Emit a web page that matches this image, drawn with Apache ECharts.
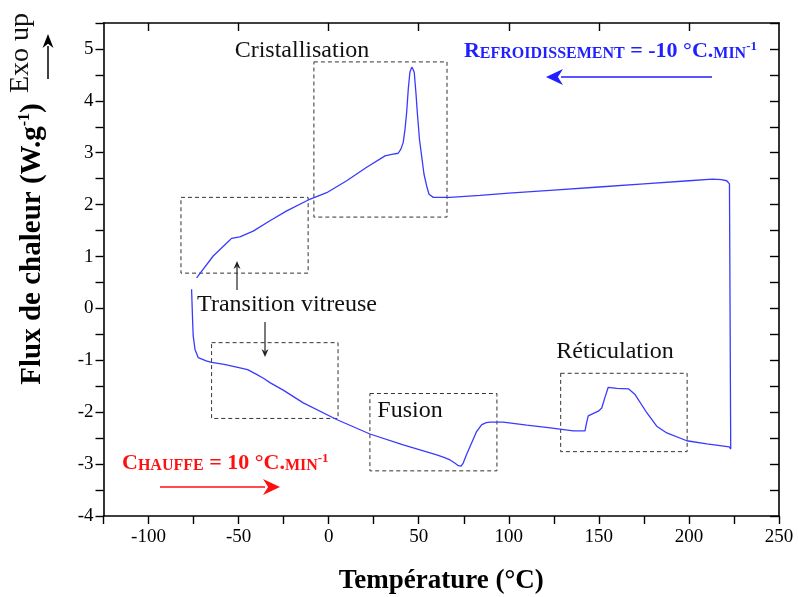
<!DOCTYPE html>
<html><head><meta charset="utf-8">
<script src="https://cdn.jsdelivr.net/npm/echarts@6/dist/echarts.min.js"></script>
<style>html,body{margin:0;padding:0;background:#fff}#c{width:798px;height:597px}</style>
</head><body><div id="c"></div>
<script>
// Heating run (°C, W/g)
const heatT = [-76.1, -75.5, -75.2, -74.2, -72.4, -68, -65, -58, -51.1, -45, -40, -36, -32.6, -25, -14.1, 4.4, 22.9, 41.4, 60, 64, 67.4, 70, 72, 73.5, 74.7, 76.5, 79.4, 82, 85, 87.5, 89.6, 96.9, 110, 123, 135.8, 142.3, 143.2, 144.1, 149.7, 151.6, 153.5, 155.2, 160, 166.4, 170.1, 176.6, 182.1, 187.7, 198.8, 209.9, 222.4, 223.2];
const heatF = [0.37, -0.27, -0.53, -0.79, -0.95, -1.01, -1.04, -1.08, -1.13, -1.18, -1.27, -1.35, -1.43, -1.58, -1.82, -2.14, -2.42, -2.63, -2.82, -2.87, -2.92, -2.98, -3.03, -3.04, -2.98, -2.82, -2.59, -2.38, -2.24, -2.20, -2.19, -2.19, -2.25, -2.30, -2.36, -2.36, -2.2, -2.07, -1.98, -1.92, -1.7, -1.52, -1.54, -1.55, -1.66, -2.01, -2.27, -2.40, -2.55, -2.61, -2.67, -2.71];
// Cooling run (°C, W/g)
const coolT = [222.5, 221, 218, 213, 200, 175, 150, 125, 100, 84, 67.4, 58.1, 55.7, 54.4, 52.9, 51.6, 50.4, 49.2, 48.5, 47.5, 46.8, 46.1, 45.1, 44.2, 43.3, 42.4, 41.4, 40.1, 38.6, 35, 31.3, 21.1, 10, -1.1, -11.3, -23.3, -32.6, -41.9, -49.3, -53.9, -56, -64.1, -73.3];
const coolF = [2.40, 2.46, 2.48, 2.49, 2.46, 2.40, 2.34, 2.28, 2.22, 2.18, 2.14, 2.14, 2.20, 2.36, 2.59, 2.94, 3.26, 3.78, 4.13, 4.55, 4.61, 4.65, 4.55, 4.23, 3.78, 3.46, 3.20, 3.07, 2.99, 2.97, 2.94, 2.72, 2.46, 2.23, 2.09, 1.88, 1.69, 1.49, 1.38, 1.35, 1.28, 1.01, 0.59];
// Tick values
const xTopTicks = [-100, -50, 0, 50, 100, 150, 200];
// Annotated regions [xMin, xMax, yMin, yMax]
const regionCryst = [-8.2, 65.7, 1.76, 4.75];
const regionTgCool = [-82, -11.4, 0.68, 2.14];
const regionTgHeat = [-65, 5.2, -2.12, -0.66];
const regionFusion = [22.9, 93.4, -3.13, -1.64];
const regionReti = [128.8, 199, -2.76, -1.25];

const FONT = "'Liberation Serif','Times New Roman',serif";
const lineData = [];
heatT.forEach((t, i) => lineData.push([t, heatF[i]]));
coolT.forEach((t, i) => lineData.push([t, coolF[i]]));

const areas = [regionCryst, regionTgCool, regionTgHeat, regionFusion, regionReti]
  .map(r => [{coord: [r[0], r[3]]}, {coord: [r[1], r[2]]}]);

function arrow(x1, y1, x2, y2, color, hl, hw, lw) {
  const dx = x2 - x1, dy = y2 - y1, L = Math.hypot(dx, dy);
  const ux = dx / L, uy = dy / L, px = -uy, py = ux;
  const bx = x2 - ux * hl, by = y2 - uy * hl;
  return [
    {type: 'line', silent: true, shape: {x1: x1, y1: y1, x2: bx + ux * 2, y2: by + uy * 2}, style: {stroke: color, lineWidth: lw}},
    {type: 'polygon', silent: true, shape: {points: [[x2, y2], [bx + px * hw / 2, by + py * hw / 2], [x2 - ux * hl * 0.7, y2 - uy * hl * 0.7], [bx - px * hw / 2, by - py * hw / 2]]}, style: {fill: color}}
  ];
}
function label(x, y, text, size) {
  return {type: 'text', silent: true, x: x, y: y, style: {text: text, fill: '#111', font: size + 'px ' + FONT, align: 'center', verticalAlign: 'middle'}};
}
const capsRich = (color) => ({
  b: {fontSize: 22, fontWeight: 'bold', fontFamily: FONT, fill: color, color: color, verticalAlign: 'bottom', lineHeight: 22},
  s: {fontSize: 16, fontWeight: 'bold', fontFamily: FONT, fill: color, color: color, verticalAlign: 'bottom', lineHeight: 22},
  p: {fontSize: 13, fontWeight: 'bold', fontFamily: FONT, fill: color, color: color, verticalAlign: 'top', lineHeight: 22}
});

const graphics = [].concat(
  [label(302, 51, 'Cristallisation', 24), label(287, 305, 'Transition vitreuse', 24),
   label(410, 411, 'Fusion', 24), label(615, 352, 'Réticulation', 24)],
  arrow(237, 290, 237, 261, '#222', 8, 7, 1.2),
  arrow(265, 322, 265, 357, '#222', 8, 7, 1.2),
  arrow(712, 77, 546, 77, '#1f1fff', 17, 16, 1.5),
  arrow(160, 487, 280, 487, '#ff1010', 17, 16, 1.5),
  arrow(48, 79, 48, 34, '#000', 14, 11, 1.5),
  [
    {type: 'text', silent: true, x: 757, y: 51, style: {text: '{b|R}{s|EFROIDISSEMENT}{b| = -10 °C.}{s|MIN}{p|-1}', rich: capsRich('#1f1fff'), align: 'right', verticalAlign: 'middle'}},
    {type: 'text', silent: true, x: 122, y: 463, style: {text: '{b|C}{s|HAUFFE}{b| = 10 °C.}{s|MIN}{p|-1}', rich: capsRich('#ff1010'), align: 'left', verticalAlign: 'middle'}},
    {type: 'text', silent: true, x: 21, y: 53, rotation: Math.PI / 2, style: {text: 'Exo up', fill: '#111', font: '28px ' + FONT, align: 'center', verticalAlign: 'middle'}},
    {type: 'text', silent: true, x: 32, y: 244, rotation: Math.PI / 2, style: {
      text: '{t|Flux de chaleur (W.g}{p|-1}{t|)}', align: 'center', verticalAlign: 'middle',
      rich: {t: {fontSize: 29, fontWeight: 'bold', fontFamily: FONT, fill: '#000', verticalAlign: 'bottom', lineHeight: 30},
             p: {fontSize: 16, fontWeight: 'bold', fontFamily: FONT, fill: '#000', verticalAlign: 'top', lineHeight: 30}}}}
  ]
);

const axisLine = {show: true, onZero: false, lineStyle: {color: '#000', width: 1.6}};
const option = {
  animation: false,
  backgroundColor: '#fff',
  grid: {left: 103.5, right: 19, top: 23, bottom: 81, containLabel: false, outerBoundsMode: 'none'},
  xAxis: [
    {type: 'value', position: 'bottom', min: -125, max: 250, interval: 25,
     axisLine: axisLine, axisTick: {inside: false, length: 8, lineStyle: {color: '#000', width: 1.4}},
     axisLabel: {formatter: v => (v % 50 === 0 ? String(v) : ''), fontFamily: FONT, fontSize: 19, color: '#000', margin: 12},
     splitLine: {show: false},
     name: 'Température (°C)', nameLocation: 'middle', nameGap: 52,
     nameTextStyle: {fontFamily: FONT, fontSize: 27, fontWeight: 'bold', color: '#000'}},
    {type: 'value', position: 'top', min: -125, max: 250,
     axisLine: axisLine, axisTick: {inside: true, length: 8, customValues: xTopTicks, lineStyle: {color: '#000', width: 1.4}},
     axisLabel: {show: false}, splitLine: {show: false}}
  ],
  yAxis: [
    {type: 'value', position: 'left', min: -4, max: 5.5, interval: 0.5,
     axisLine: axisLine, axisTick: {inside: false, length: 8, lineStyle: {color: '#000', width: 1.4}},
     axisLabel: {formatter: v => (Number.isInteger(v) ? String(v) : ''), fontFamily: FONT, fontSize: 19, color: '#000', margin: 10},
     splitLine: {show: false}},
    {type: 'value', position: 'right', min: -4, max: 5.5, interval: 0.5,
     axisLine: axisLine, axisTick: {inside: true, length: 9, lineStyle: {color: '#000', width: 1.4}},
     axisLabel: {show: false}, splitLine: {show: false}}
  ],
  series: [{
    type: 'line', data: lineData, xAxisIndex: 0, yAxisIndex: 0,
    showSymbol: false, symbol: 'none', smooth: false,
    lineStyle: {color: '#3a3aff', width: 1.3},
    markArea: {silent: true, itemStyle: {color: 'rgba(0,0,0,0)', borderColor: '#333', borderWidth: 1, borderType: [4, 3]}, data: areas}
  }],
  graphic: graphics
};
const chart = echarts.init(document.getElementById('c'), null, {renderer: 'canvas'});
chart.setOption(option);
</script>
</body></html>
